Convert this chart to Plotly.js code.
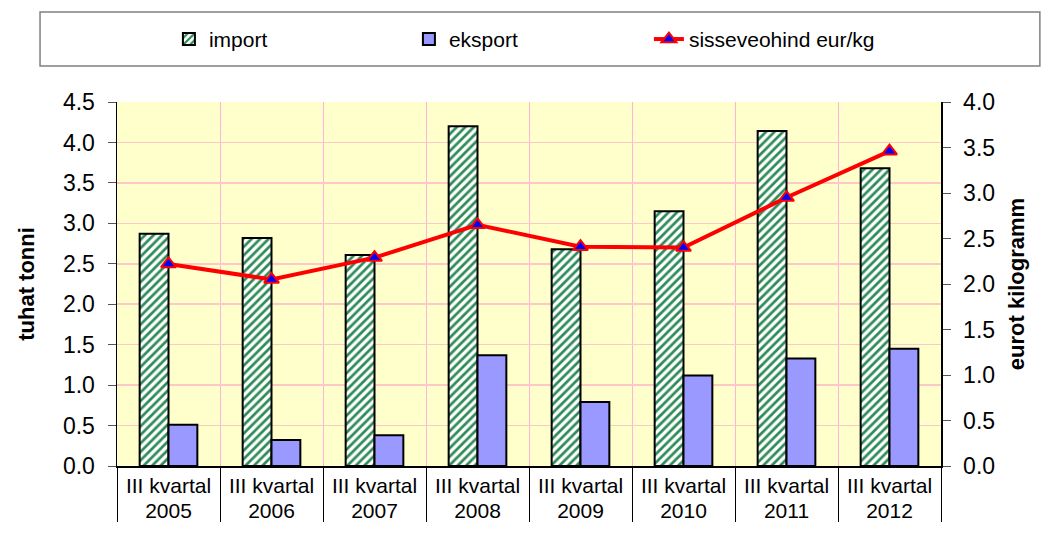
<!DOCTYPE html>
<html>
<head>
<meta charset="utf-8">
<script src="https://cdn.plot.ly/plotly-3.0.1.min.js"></script>
<style>html,body{margin:0;padding:0;background:#fff}#chart{width:1046px;height:539px}</style>
</head>
<body>
<div id="chart"></div>
<script>
const years = ["2005","2006","2007","2008","2009","2010","2011","2012"];
const quarters = ["III kvartal","III kvartal","III kvartal","III kvartal","III kvartal","III kvartal","III kvartal","III kvartal"];
const importVals = [2.87, 2.82, 2.61, 4.20, 2.68, 3.15, 4.14, 3.68];
const eksportVals = [0.51, 0.32, 0.38, 1.37, 0.79, 1.12, 1.33, 1.45];
const priceVals = [2.22, 2.05, 2.29, 2.65, 2.41, 2.40, 2.95, 3.46];
const leftTicks = [0,0.5,1,1.5,2,2.5,3,3.5,4,4.5];
const rightTicks = [0,0.5,1,1.5,2,2.5,3,3.5,4];

const xcat = [years, quarters];
const FONT = "Liberation Sans, Arial, sans-serif";

const traces = [
  {type:"bar", name:"import", x:xcat, y:importVals,
   marker:{color:"#ffffff", line:{color:"#000000", width:2},
           pattern:{shape:"/", fgcolor:"#2e8b57", bgcolor:"#ffffff", size:6, solidity:0.45}}},
  {type:"bar", name:"eksport", x:xcat, y:eksportVals,
   marker:{color:"#9999FF", line:{color:"#000000", width:2}}},
  {type:"scatter", mode:"lines+markers", name:"sisseveohind eur/kg", x:xcat, y:priceVals, yaxis:"y2",
   line:{color:"#FF0000", width:4},
   marker:{symbol:"triangle-up", size:13, color:"#0000FF", line:{color:"#FF0000", width:2}}}
];

const layout = {
  width:1046, height:539,
  margin:{l:117, r:105, t:102, b:73},
  paper_bgcolor:"#ffffff",
  plot_bgcolor:"#FFFFCC",
  font:{family:FONT, size:22, color:"#000000"},
  barmode:"group",
  bargap:0.44,
  bargroupgap:0,
  showlegend:true,
  legend:{orientation:"h", x:0.063, xanchor:"left", y:1.172, yanchor:"middle",
          font:{family:FONT, size:21}, entrywidth:195, entrywidthmode:"pixels",
          bgcolor:"rgba(0,0,0,0)", borderwidth:0, traceorder:"normal"},
  xaxis:{type:"multicategory", showline:true, linecolor:"#000000", linewidth:1.5,
         showgrid:true, gridcolor:"#FFB3D9", gridwidth:1, tickson:"boundaries",
         ticks:"", showdividers:true, dividercolor:"#000000", dividerwidth:1,
         tickfont:{family:FONT, size:21}, zeroline:false},
  yaxis:{range:[0,4.5], tickvals:leftTicks, tickformat:".1f", showline:true, linecolor:"#000000", linewidth:1.5,
         ticks:"outside", ticklen:8, tickcolor:"#555555", showgrid:true, gridcolor:"#FFC8C8", gridwidth:1.5,
         zeroline:false, tickfont:{family:FONT, size:23}, ticklabelstandoff:8,
         title:{text:"<b>tuhat tonni</b>", font:{family:FONT, size:22}, standoff:22}},
  yaxis2:{overlaying:"y", side:"right", range:[0,4.0], tickvals:rightTicks, tickformat:".1f",
          showline:true, linecolor:"#000000", linewidth:1.5, ticks:"outside", ticklen:8, tickcolor:"#555555",
          showgrid:false, zeroline:false, tickfont:{family:FONT, size:23}, ticklabelstandoff:8,
          title:{text:"<b>eurot kilogramm</b>", font:{family:FONT, size:22}, standoff:14}},
  shapes:[{type:"rect", xref:"paper", yref:"paper", x0:-0.0934, x1:1.12, y0:1.099, y1:1.247,
           line:{color:"#808080", width:1.5}, fillcolor:"rgba(0,0,0,0)"}]
};

Plotly.newPlot("chart", traces, layout, {displayModeBar:false, staticPlot:true});
</script>
</body>
</html>
